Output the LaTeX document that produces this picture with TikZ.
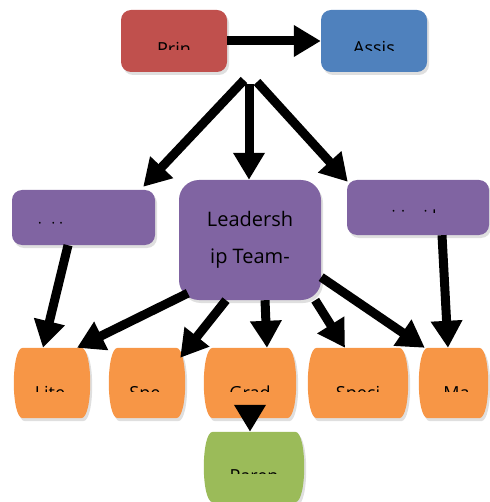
\documentclass[tikz,border=0pt]{standalone}
\usepackage{fontspec}
\setmainfont{Open Sans}
\usetikzlibrary{arrows.meta,shadows,calc}
\definecolor{prinred}{HTML}{C0504D}
\definecolor{assisblue}{HTML}{4F81BD}
\definecolor{teampurple}{HTML}{8064A2}
\definecolor{deptorange}{HTML}{F79646}
\definecolor{parengreen}{HTML}{9BBB59}
\tikzset{
  box/.style={inner sep=0pt, rounded corners=10pt,
    drop shadow={opacity=0.25, shadow xshift=2pt, shadow yshift=-3pt}},
  barrel/.style={inner sep=0pt, minimum width=#1, minimum height=70pt},
  lbl/.style={inner sep=0pt, font=\fontsize{18}{22}\selectfont},
  wire/.style={line width=9pt, -{Triangle[width=30pt,length=27pt]}},
}
% clipped label: node, x offset, text, baseline offset, cut offset
\newcommand{\cutlabel}[5]{%
  \begin{scope}
    \clip (#1.north west) rectangle ($(#1.east)+(0,#5)$);
    \node[lbl, anchor=base] at ($(#1.center)+(#2,#4)$) {#3};
  \end{scope}}

\begin{document}
\begin{tikzpicture}[x=1pt, y=-1pt]
      \useasboundingbox (0,0) rectangle (489,502);
      % Paths, nodes and wires:
      \node[box, fill=prinred, minimum width=106pt, minimum height=62pt](N1) at (174, 41){};
      \node[box, fill=assisblue, minimum width=106pt, minimum height=62pt](N2) at (374, 41){};
      \node[box, fill=teampurple, minimum width=143pt, minimum height=55pt](N3) at (83.5, 217.5){};
      \node[box, fill=teampurple, rounded corners=20pt, minimum width=142pt, minimum height=120pt,
        align=center, font=\fontsize{20}{37}\selectfont](N4) at (250, 240){Leadersh\\ip Team-};
      \node[box, fill=teampurple, minimum width=142pt, minimum height=55pt](N5) at (418, 207.5){};
      \node[barrel=78pt](N6) at (52, 383){};
      \node[barrel=78pt](N7) at (147, 383){};
      \node[barrel=94pt](N8) at (250, 383){};
      \node[barrel=102pt](N9) at (358, 383){};
      \node[barrel=71pt](N10) at (453.5, 383){};
      \node[barrel=102pt](N11) at (254, 467){};
      \foreach \n/\c in {N6/deptorange, N7/deptorange, N8/deptorange, N9/deptorange,
                         N10/deptorange, N11/parengreen}
        \fill[\c, drop shadow={opacity=0.25, shadow xshift=2pt, shadow yshift=-3pt}]
          ([xshift=10pt]\n.north west) -- ([xshift=-10pt]\n.north east)
          .. controls ([xshift=2pt]\n.north east) and ([xshift=2pt]\n.south east) .. ([xshift=-10pt]\n.south east)
          -- ([xshift=10pt]\n.south west)
          .. controls ([xshift=-2pt]\n.south west) and ([xshift=-2pt]\n.north west) .. cycle;
      \cutlabel{N1}{0}{Prin}{15}{9}
      \cutlabel{N2}{0}{Assis}{14}{10}
      \cutlabel{N3}{-33}{i\hspace{9pt}i\hspace{3pt}i}{17.5}{6.5}
      \cutlabel{N5}{-4}{i\hspace{5pt}i\hspace{18pt}i\hspace{4pt}l}{15.5}{5.5}
      \cutlabel{N6}{-2}{Lite}{16}{8}
      \cutlabel{N7}{-2}{Spe}{16}{8}
      \cutlabel{N8}{0}{Grad}{16}{8}
      \cutlabel{N9}{0}{Speci}{16}{8}
      \cutlabel{N10}{3}{Ma}{16}{8}
      \cutlabel{N11}{0}{Paren}{15}{6}
      \coordinate (H1) at (244, 80);
      \coordinate (H2) at (249, 84);
      \coordinate (H3) at (257, 82);
      \coordinate (H4) at ($(N8.center)+(0,22)$);
      \draw[wire] (N1.east) -- (N2.west);
      \draw[wire] (H1) -- ([xshift=-12pt, yshift=3pt]N3.north east);
      \draw[wire] (H2) -- ([xshift=-1pt]N4.north);
      \draw[wire] (H3) -- ([xshift=1pt, yshift=-2pt]N5.north west);
      \draw[wire] ([xshift=9pt, yshift=7pt]N4.south west) -- ([xshift=25pt]N6.north);
      \draw[wire] ([xshift=-24pt]N4.south) -- ([xshift=-6pt, yshift=-10pt]N7.north east);
      \draw[wire] ([xshift=15pt]N4.south) -- ([xshift=17pt]N8.north);
      \draw[wire] ([xshift=-6pt]N4.south east) -- ([xshift=-13pt]N9.north);
      \draw[wire] ([yshift=23pt]N4.south east) -- ([xshift=7pt]N10.north west);
      \draw[wire] ([xshift=-15.5pt]N3.south) -- ([xshift=-9pt]N6.north);
      \draw[wire] ([xshift=24pt]N5.south) -- ([xshift=-5.5pt]N10.north);
      \draw[wire] (H4) -- ([xshift=-4pt]N11.north);
    \end{tikzpicture}
\end{document}
